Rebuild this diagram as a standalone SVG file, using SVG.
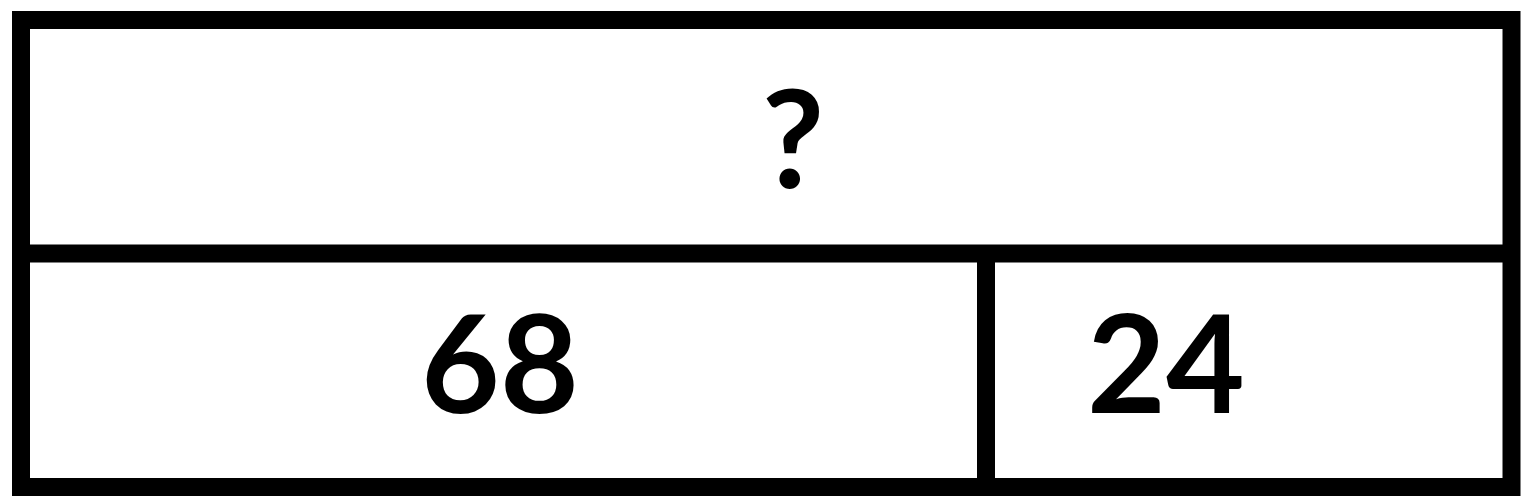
<svg xmlns="http://www.w3.org/2000/svg" width="1527" height="501" viewBox="0 0 1527 501">
<style>
.ln{stroke:#000;stroke-width:18;fill:none}
.t{font-family:Lato,"Liberation Sans",Arial,sans-serif;font-weight:700;font-size:136px;fill:#000;text-anchor:middle}
</style>
<rect width="1527" height="501" fill="#fff"/>
<g id="connectors">
<rect class="ln" x="21" y="20" width="1490.5" height="467"/>
<line class="ln" x1="12" y1="253.5" x2="1520" y2="253.5"/>
<line class="ln" x1="986" y1="245" x2="986" y2="496"/>
</g>
<g id="top"><text class="t" x="793" y="188">?</text></g>
<g id="left"><text class="t" x="500" y="413">68</text></g>
<g id="right"><text class="t" x="1166" y="413">24</text></g>
</svg>
